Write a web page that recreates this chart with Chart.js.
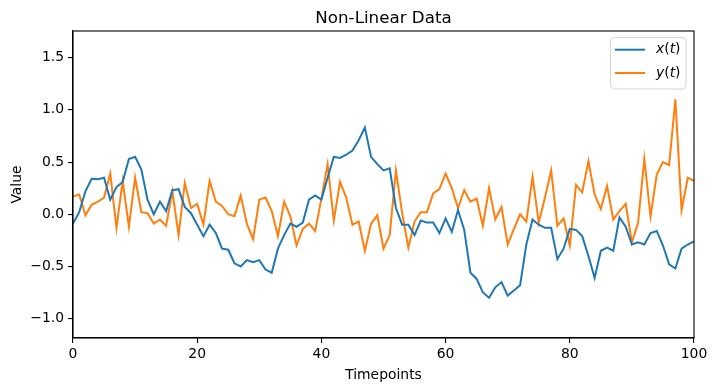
<!DOCTYPE html>
<html>
<head>
<meta charset="utf-8">
<script src="https://cdn.jsdelivr.net/npm/chart.js@4"></script>
<style>
  html, body { margin: 0; padding: 0; background: #fff; }
  canvas { display: block; }
</style>
</head>
<body>
<canvas id="chart" width="716" height="391"></canvas>
<script>
// ----- Data -----
const xSeries = [
  -0.09, 0.02, 0.22, 0.34, 0.335, 0.35, 0.14, 0.26, 0.31, 0.53,
  0.55, 0.43, 0.14, 0.00, 0.12, 0.03, 0.23, 0.24, 0.07, 0.01,
  -0.10, -0.21, -0.10, -0.18, -0.33, -0.34, -0.47, -0.50, -0.44, -0.46,
  -0.44, -0.53, -0.56, -0.33, -0.20, -0.09, -0.12, -0.08, 0.14, 0.18,
  0.14, 0.35, 0.55, 0.54, 0.57, 0.61, 0.71, 0.83, 0.55, 0.48,
  0.42, 0.44, 0.06, -0.10, -0.10, -0.20, -0.06, -0.08, -0.08, -0.18,
  -0.04, -0.17, 0.04, -0.15, -0.56, -0.62, -0.75, -0.80, -0.70, -0.65,
  -0.78, -0.73, -0.68, -0.29, -0.05, -0.10, -0.13, -0.13, -0.43, -0.33,
  -0.14, -0.15, -0.21, -0.40, -0.61, -0.35, -0.32, -0.35, -0.03, -0.12,
  -0.29, -0.27, -0.29, -0.18, -0.16, -0.30, -0.48, -0.52, -0.33, -0.29,
  -0.26
];
const ySeries = [
  0.17, 0.19, -0.01, 0.09, 0.12, 0.16, 0.39, -0.13, 0.32, -0.12,
  0.35, 0.02, 0.01, -0.09, -0.05, -0.11, 0.22, -0.20, 0.30, 0.06,
  0.10, -0.10, 0.32, 0.12, 0.08, 0.00, -0.02, 0.18, -0.09, -0.24,
  0.14, 0.16, 0.03, -0.21, 0.12, -0.02, -0.30, -0.14, -0.09, -0.16,
  0.15, 0.48, -0.06, 0.31, 0.16, -0.10, -0.07, -0.35, -0.09, -0.01,
  -0.33, -0.20, 0.42, 0.01, -0.32, -0.07, 0.02, 0.02, 0.20, 0.24,
  0.39, 0.25, 0.06, 0.23, 0.12, 0.15, -0.11, 0.25, -0.05, 0.07,
  -0.29, -0.14, 0.00, -0.07, 0.36, -0.08, 0.16, 0.42, -0.11, -0.04,
  -0.30, 0.28, 0.21, 0.51, 0.19, 0.05, 0.27, -0.05, 0.03, 0.10,
  -0.27, -0.08, 0.53, -0.02, 0.38, 0.50, 0.47, 1.10, 0.04, 0.35,
  0.32
];
const timepoints = xSeries.map((_, i) => i);
const seriesLabels = ["x(t)", "y(t)"];
const seriesColors = ["#1f77b4", "#ff7f0e"];
const xTicks = [0, 20, 40, 60, 80, 100];
const yTicks = [-1.0, -0.5, 0.0, 0.5, 1.0, 1.5];

const FONT = "'DejaVu Sans', sans-serif";

// title, axis labels, frame and legend drawn matplotlib-style
const decorPlugin = {
  id: "decor",
  afterDatasetsDraw(chart) {
    const { ctx, chartArea: a } = chart;
    ctx.save();
    // frame
    ctx.strokeStyle = "#000";
    ctx.lineWidth = 1.1;
    ctx.strokeRect(a.left, a.top, a.right - a.left, a.bottom - a.top);

    ctx.fillStyle = "#000";
    // title
    ctx.font = `16.7px ${FONT}`;
    ctx.textAlign = "center";
    ctx.textBaseline = "alphabetic";
    ctx.fillText("Non-Linear Data", (a.left + a.right) / 2, 22.5);
    // x label
    ctx.font = `13.9px ${FONT}`;
    ctx.fillText("Timepoints", (a.left + a.right) / 2, 379);
    // y label
    ctx.save();
    ctx.translate(21, (a.top + a.bottom) / 2);
    ctx.rotate(-Math.PI / 2);
    ctx.fillText("Value", 0, 0);
    ctx.restore();

    // legend
    const bx = 610.5, by = 37.5, bw = 75.5, bh = 51.5, r = 4;
    ctx.beginPath();
    ctx.roundRect(bx, by, bw, bh, r);
    ctx.fillStyle = "rgba(255,255,255,0.8)";
    ctx.fill();
    ctx.strokeStyle = "rgba(204,204,204,0.8)";
    ctx.lineWidth = 1;
    ctx.stroke();

    const rows = [49.7, 73];
    chart.data.datasets.forEach((ds, i) => {
      const y = rows[i];
      ctx.strokeStyle = ds.borderColor;
      ctx.lineWidth = 2;
      ctx.beginPath();
      ctx.moveTo(615, y);
      ctx.lineTo(645, y);
      ctx.stroke();
      // mathtext-like label: italic letters, upright parens
      const v = ds.label.charAt(0);
      const parts = [[v, true], ["(", false], ["t", true], [")", false]];
      let x = 656;
      ctx.fillStyle = "#000";
      ctx.textAlign = "left";
      ctx.textBaseline = "middle";
      parts.forEach(([s, it]) => {
        ctx.font = `${it ? "italic " : ""}13.9px ${FONT}`;
        ctx.fillText(s, x, y);
        x += ctx.measureText(s).width;
      });
    });
    ctx.restore();
  },
};

new Chart(document.getElementById("chart"), {
  type: "line",
  data: {
    datasets: [xSeries, ySeries].map((vals, i) => ({
      label: seriesLabels[i],
      data: vals.map((v, k) => ({ x: timepoints[k], y: v })),
      borderColor: seriesColors[i],
      backgroundColor: seriesColors[i],
      borderWidth: 2,
      pointRadius: 0,
      tension: 0,
      fill: false,
    })),
  },
  options: {
    responsive: false,
    animation: false,
    devicePixelRatio: 1,
    layout: { padding: { top: 31, right: 22, left: 0, bottom: 0 } },
    plugins: {
      legend: { display: false },
      title: { display: false },
      tooltip: { enabled: false },
    },
    scales: {
      x: {
        type: "linear",
        min: 0,
        max: 100,
        afterBuildTicks: (s) => { s.ticks = xTicks.map((v) => ({ value: v })); },
        afterFit: (s) => { s.height = 53; },
        grid: { display: true, drawOnChartArea: false, drawTicks: true, tickLength: 5, color: "#000", lineWidth: 1.1 },
        border: { display: true, color: "#000", width: 1.1 },
        ticks: {
          color: "#000",
          font: { family: FONT, size: 13.9 },
          padding: 3,
          maxRotation: 0,
          callback: (v) => String(v),
        },
      },
      y: {
        type: "linear",
        min: -1.186,
        max: 1.756,
        afterBuildTicks: (s) => { s.ticks = yTicks.map((v) => ({ value: v })); },
        afterFit: (s) => { s.width = 73; },
        grid: { display: true, drawOnChartArea: false, drawTicks: true, tickLength: 5, color: "#000", lineWidth: 1.1 },
        border: { display: true, color: "#000", width: 1.1 },
        ticks: {
          color: "#000",
          font: { family: FONT, size: 13.9 },
          padding: 4,
          callback: (v) => v.toFixed(1).replace("-", "\u2212"),
        },
      },
    },
  },
  plugins: [decorPlugin],
});
</script>
</body>
</html>
